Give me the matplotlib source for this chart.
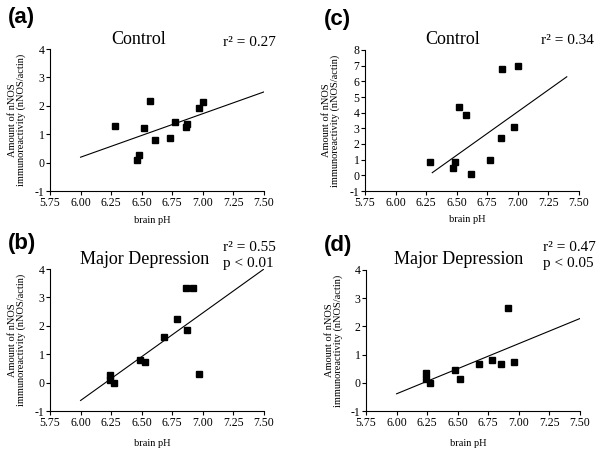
import numpy as np
import matplotlib.pyplot as plt

# 数据：各面板的 brain pH 和 nNOS 含量
a_ph = [6.28, 6.46, 6.48, 6.52, 6.57, 6.61, 6.73, 6.77, 6.86, 6.87, 6.97, 7.00]
a_nnos = [1.30, 0.08, 0.26, 1.23, 2.18, 0.79, 0.87, 1.42, 1.26, 1.37, 1.92, 2.12]
a_fit_x = [6.00, 7.50]
a_fit_y = [0.19, 2.49]

c_ph = [6.28, 6.47, 6.49, 6.52, 6.58, 6.62, 6.77, 6.86, 6.87, 6.97, 7.00]
c_nnos = [0.85, 0.49, 0.85, 4.35, 3.88, 0.08, 1.00, 2.39, 6.80, 3.07, 6.97]
c_fit_x = [6.30, 7.40]
c_fit_y = [0.17, 6.29]

b_ph = [6.24, 6.24, 6.27, 6.49, 6.53, 6.68, 6.79, 6.86, 6.87, 6.92, 6.97]
b_nnos = [0.28, 0.08, -0.01, 0.81, 0.74, 1.62, 2.23, 3.33, 1.84, 3.33, 0.32]
b_fit_x = [6.00, 7.50]
b_fit_y = [-0.63, 4.00]

d_ph = [6.24, 6.24, 6.27, 6.48, 6.52, 6.67, 6.78, 6.85, 6.91, 6.96]
d_nnos = [0.35, 0.14, 0.00, 0.45, 0.13, 0.65, 0.80, 0.65, 2.64, 0.75]
d_fit_x = [6.00, 7.50]
d_fit_y = [-0.39, 2.28]

x_ticks = [5.75, 6.00, 6.25, 6.50, 6.75, 7.00, 7.25, 7.50]
ylabel = 'Amount of nNOS\nimmunoreactivity (nNOS/actin)'

serif = 'Liberation Serif'
W, H = 600, 455

fig = plt.figure(figsize=(6, 4.55), dpi=100)


def px_axes(x0, x1, ytop, ybot):
    return fig.add_axes([x0 / W, 1 - ybot / H, (x1 - x0) / W, (ybot - ytop) / H])


def ftext(x, y, s, **kw):
    fig.text(x / W, 1 - y / H, s, **kw)


def panel(ax, ph, nnos, fx, fy, ymax, ylab_x, xlab_y):
    ax.plot(ph, nnos, 's', color='black', markersize=3.8)
    ax.plot(fx, fy, '-', color='black', lw=0.8)
    ax.set_xlim(5.75, 7.50)
    ax.set_ylim(-1, ymax)
    ax.set_xticks(x_ticks)
    ax.set_xticklabels(['%.2f' % t for t in x_ticks], fontfamily=serif, fontsize=8.5)
    ax.set_yticks(range(-1, ymax + 1))
    ax.set_yticklabels([str(t) for t in range(-1, ymax + 1)], fontfamily=serif, fontsize=8.5)
    ax.tick_params(direction='out', length=3, width=0.8, pad=1)
    for s in ['top', 'right']:
        ax.spines[s].set_visible(False)
    for s in ['left', 'bottom']:
        ax.spines[s].set_linewidth(0.8)
    ax.patch.set_alpha(0)
    pos = ax.get_position()
    ftext(ylab_x, (1 - (pos.y0 + pos.height / 2)) * H, ylabel, rotation=90,
          ha='center', va='center', fontfamily=serif, fontsize=7.5, linespacing=1.0)
    ftext((pos.x0 + pos.width / 2) * W - 5, xlab_y, 'brain pH',
          ha='center', va='center', fontfamily=serif, fontsize=7.5)


ax_a = px_axes(50, 264, 49, 191)
panel(ax_a, a_ph, a_nnos, a_fit_x, a_fit_y, 4, 17, 220)
ax_c = px_axes(365, 579, 50, 191)
panel(ax_c, c_ph, c_nnos, c_fit_x, c_fit_y, 8, 331, 219)
ax_b = px_axes(50, 264, 269, 411)
panel(ax_b, b_ph, b_nnos, b_fit_x, b_fit_y, 4, 17, 443)
ax_d = px_axes(366, 580, 270, 411)
panel(ax_d, d_ph, d_nnos, d_fit_x, d_fit_y, 4, 334, 443)

bold = dict(fontfamily='Liberation Sans', fontweight='bold', fontsize=16, ha='center', va='center')
ftext(21, 18, '(a)', **bold)
ftext(337, 19, '(c)', **bold)
ftext(22, 244, '(b)', **bold)
ftext(338, 245, '(d)', **bold)

title = dict(fontfamily=serif, fontsize=13, ha='center', va='center')
ftext(139, 40, 'Control', **title)
ftext(453, 40, 'Control', **title)
ftext(145, 259, 'Major Depression', **title)
ftext(459, 260, 'Major Depression', **title)

stat = dict(fontfamily=serif, fontsize=11, ha='left', va='center')
ftext(223, 42, 'r² = 0.27', **stat)
ftext(541, 41, 'r² = 0.34', **stat)
ftext(223, 248, 'r² = 0.55', **stat)
ftext(223, 264, 'p < 0.01', **stat)
ftext(543, 248, 'r² = 0.47', **stat)
ftext(543, 263, 'p < 0.05', **stat)

fig.savefig('out.png', dpi=100)
